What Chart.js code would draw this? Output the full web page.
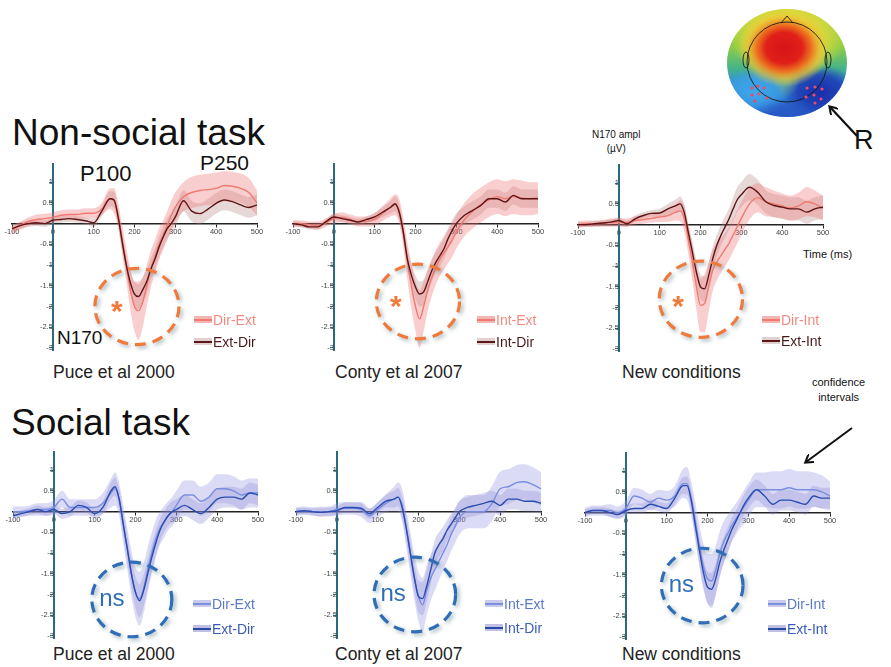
<!DOCTYPE html>
<html><head><meta charset="utf-8">
<script src="https://cdn.jsdelivr.net/npm/chart.js@4.4.0/dist/chart.umd.min.js"></script>
<style>
body{margin:0;background:#fff;width:891px;height:667px;overflow:hidden;position:relative;font-family:"Liberation Sans",Arial,sans-serif;color:#111;}
.t{position:absolute;white-space:nowrap;line-height:1;}
canvas.p{position:absolute;}
.sw{position:absolute;width:18px;height:7px;}
.sw i{position:absolute;left:0;right:0;top:2.5px;height:2px;}
.lg{position:absolute;white-space:nowrap;line-height:1;font-size:14px;}
svg{position:absolute;left:0;top:0;}
</style></head><body>

<div class="t" style="left:12px;top:114px;font-size:37px;">Non-social task</div>
<div class="t" style="left:11px;top:404px;font-size:37px;">Social task</div>

<div class="t" style="left:80px;top:163px;font-size:22px;">P100</div>
<div class="t" style="left:200px;top:152px;font-size:21px;">P250</div>
<div class="t" style="left:57px;top:328px;font-size:19px;">N170</div>

<div class="t" style="left:592px;top:128px;font-size:10px;text-align:center;line-height:1.35;">N170 ampl<br>(µV)</div>
<div class="t" style="left:803px;top:249px;font-size:11px;">Time (ms)</div>
<div class="t" style="left:812px;top:375px;font-size:11px;text-align:center;line-height:1.4;">confidence<br>intervals</div>
<div class="t" style="left:854px;top:127px;font-size:27px;">R</div>

<div class="t" style="left:53px;top:364px;font-size:17.5px;color:#222;">Puce et al 2000</div>
<div class="t" style="left:335px;top:364px;font-size:17.5px;color:#222;">Conty et al 2007</div>
<div class="t" style="left:622px;top:364px;font-size:17.5px;color:#222;">New conditions</div>
<div class="t" style="left:53px;top:646px;font-size:17.5px;color:#222;">Puce et al 2000</div>
<div class="t" style="left:335px;top:646px;font-size:17.5px;color:#222;">Conty et al 2007</div>
<div class="t" style="left:622px;top:646px;font-size:17.5px;color:#222;">New conditions</div>

<canvas class="p" id="c1" width="277" height="205" style="left:-4px;top:157px"></canvas>
<canvas class="p" id="c2" width="277" height="205" style="left:277px;top:157px"></canvas>
<canvas class="p" id="c3" width="277" height="205" style="left:562px;top:158px"></canvas>
<canvas class="p" id="c4" width="277" height="205" style="left:-3px;top:445px"></canvas>
<canvas class="p" id="c5" width="277" height="205" style="left:280px;top:445px"></canvas>
<canvas class="p" id="c6" width="277" height="205" style="left:569px;top:446px"></canvas>

<!-- legends -->
<div class="sw" style="left:194px;top:316px;background:rgba(236,120,115,.55)"><i style="background:#ee7a70"></i></div>
<div class="lg" style="left:213px;top:313px;color:#f08a80">Dir-Ext</div>
<div class="sw" style="left:194px;top:338px;background:rgba(190,150,150,.45)"><i style="background:#5a1818"></i></div>
<div class="lg" style="left:213px;top:335px;color:#4a1a1a">Ext-Dir</div>

<div class="sw" style="left:477px;top:316px;background:rgba(236,120,115,.55)"><i style="background:#ee7a70"></i></div>
<div class="lg" style="left:496px;top:313px;color:#f08a80">Int-Ext</div>
<div class="sw" style="left:477px;top:338px;background:rgba(190,150,150,.45)"><i style="background:#5a1818"></i></div>
<div class="lg" style="left:496px;top:335px;color:#4a1a1a">Int-Dir</div>

<div class="sw" style="left:762px;top:316px;background:rgba(236,120,115,.55)"><i style="background:#ee7a70"></i></div>
<div class="lg" style="left:781px;top:313px;color:#f08a80">Dir-Int</div>
<div class="sw" style="left:762px;top:337px;background:rgba(190,150,150,.45)"><i style="background:#5a1818"></i></div>
<div class="lg" style="left:781px;top:334px;color:#4a1a1a">Ext-Int</div>

<div class="sw" style="left:193px;top:600px;background:rgba(150,150,220,.5)"><i style="background:#7a8ee0"></i></div>
<div class="lg" style="left:212px;top:597px;color:#5a78c8">Dir-Ext</div>
<div class="sw" style="left:193px;top:625px;background:rgba(130,130,200,.5)"><i style="background:#2a48a8"></i></div>
<div class="lg" style="left:212px;top:622px;color:#3a5cb8">Ext-Dir</div>

<div class="sw" style="left:485px;top:600px;background:rgba(150,150,220,.5)"><i style="background:#7a8ee0"></i></div>
<div class="lg" style="left:504px;top:597px;color:#5a78c8">Int-Ext</div>
<div class="sw" style="left:485px;top:624px;background:rgba(130,130,200,.5)"><i style="background:#2a48a8"></i></div>
<div class="lg" style="left:504px;top:621px;color:#3a5cb8">Int-Dir</div>

<div class="sw" style="left:768px;top:600px;background:rgba(150,150,220,.5)"><i style="background:#7a8ee0"></i></div>
<div class="lg" style="left:787px;top:597px;color:#5a78c8">Dir-Int</div>
<div class="sw" style="left:768px;top:625px;background:rgba(130,130,200,.5)"><i style="background:#2a48a8"></i></div>
<div class="lg" style="left:787px;top:622px;color:#3a5cb8">Ext-Int</div>

<canvas id="scalp" width="170" height="125" style="position:absolute;left:720px;top:0px"></canvas>

<svg width="891" height="667">
  <defs><marker id="ah" markerWidth="10" markerHeight="10" refX="7" refY="5" orient="auto" markerUnits="userSpaceOnUse">
    <path d="M0,0 L8,5 L0,10" fill="none" stroke="#111" stroke-width="2"/></marker></defs>
  <line x1="857" y1="136" x2="830" y2="107" stroke="#111" stroke-width="2.2" marker-end="url(#ah)"/>
  <line x1="852" y1="428" x2="806" y2="462" stroke="#111" stroke-width="2" marker-end="url(#ah)"/>
</svg>

<script>
// ---------- data ----------
const T = [-100,-80,-60,-40,-20,0,20,40,60,80,100,120,140,150,160,170,180,190,200,210,220,230,240,250,260,270,280,290,300,320,340,360,380,400,420,440,460,480,500];
const X_TICKS = [-100,0,100,200,300,400,500];
const Y_TICKS = [-3,-2.5,-2,-1.5,-1,-0.5,0.5,1];

// Non-social task, Puce et al 2000
const puceNS_DirExt = [-0.15,-0.05,0.05,0.1,0.12,0.15,0.2,0.22,0.22,0.25,0.25,0.35,0.6,0.55,0.2,-0.4,-1.0,-1.6,-2.0,-2.1,-1.9,-1.5,-1.1,-0.8,-0.5,-0.28,-0.05,0.2,0.4,0.65,0.75,0.8,0.82,0.85,0.92,0.9,0.85,0.75,0.5];
const puceNS_ExtDir = [-0.12,-0.05,0.0,0.02,0.0,0.08,0.1,0.12,0.1,0.07,0.02,0.3,0.6,0.57,0.15,-0.45,-1.0,-1.43,-1.7,-1.76,-1.6,-1.4,-1.1,-0.86,-0.57,-0.33,-0.12,0.0,0.16,0.55,0.3,0.24,0.35,0.49,0.57,0.53,0.45,0.39,0.45];
const puceNS_DirExtCI = [0.1,0.1,0.1,0.12,0.12,0.12,0.12,0.12,0.12,0.12,0.12,0.15,0.25,0.3,0.3,0.35,0.4,0.5,0.6,0.7,0.6,0.5,0.45,0.4,0.38,0.35,0.35,0.35,0.35,0.35,0.38,0.38,0.38,0.38,0.35,0.35,0.35,0.35,0.3];
const puceNS_ExtDirCI = [0.08,0.08,0.08,0.08,0.08,0.08,0.08,0.08,0.08,0.08,0.1,0.12,0.18,0.2,0.2,0.22,0.25,0.28,0.3,0.3,0.3,0.28,0.26,0.25,0.25,0.25,0.25,0.25,0.25,0.25,0.25,0.25,0.25,0.25,0.25,0.25,0.25,0.25,0.25];

// Non-social task, Conty et al 2007
const contyNS_IntExt = [0.0,0.0,-0.03,-0.05,0.02,0.12,0.15,0.1,0.05,0.05,0.1,0.25,0.4,0.45,0.3,-0.2,-0.9,-1.5,-2.0,-2.3,-2.0,-1.6,-1.3,-1.05,-0.85,-0.7,-0.55,-0.4,-0.2,0.1,0.3,0.45,0.58,0.65,0.6,0.65,0.62,0.6,0.62];
const contyNS_IntDir = [0.0,-0.03,-0.08,-0.08,0.04,0.16,0.12,0.08,0.04,0.1,0.16,0.28,0.4,0.48,0.28,-0.2,-0.85,-1.25,-1.53,-1.7,-1.65,-1.4,-1.13,-0.93,-0.77,-0.6,-0.36,-0.16,0.0,0.2,0.32,0.44,0.6,0.6,0.52,0.68,0.6,0.6,0.6];
const contyNS_IntExtCI = [0.08,0.08,0.08,0.1,0.1,0.12,0.12,0.12,0.12,0.12,0.15,0.18,0.22,0.25,0.3,0.35,0.45,0.55,0.6,0.7,0.6,0.5,0.45,0.42,0.4,0.4,0.4,0.4,0.4,0.4,0.42,0.42,0.42,0.42,0.42,0.42,0.42,0.4,0.38];
const contyNS_IntDirCI = [0.06,0.06,0.06,0.06,0.06,0.08,0.08,0.08,0.08,0.08,0.1,0.12,0.15,0.18,0.2,0.22,0.25,0.25,0.28,0.3,0.3,0.28,0.26,0.25,0.25,0.25,0.25,0.25,0.25,0.22,0.22,0.22,0.22,0.22,0.22,0.22,0.22,0.22,0.22];

// Non-social task, new conditions
const newNS_DirInt = [0.0,0.02,0.02,0.03,0.05,0.05,0.05,0.1,0.12,0.15,0.18,0.22,0.3,0.33,0.15,-0.35,-0.9,-1.5,-1.95,-1.9,-1.5,-1.1,-0.9,-0.75,-0.6,-0.45,-0.25,-0.05,0.15,0.5,0.65,0.55,0.5,0.45,0.4,0.45,0.55,0.5,0.4];
const newNS_ExtInt = [0.0,0.0,0.02,0.04,0.06,0.1,0.02,0.14,0.22,0.27,0.28,0.38,0.46,0.5,0.3,-0.18,-0.66,-1.15,-1.5,-1.55,-1.23,-0.82,-0.5,-0.26,-0.06,0.14,0.38,0.6,0.72,0.9,0.78,0.55,0.46,0.42,0.38,0.38,0.3,0.38,0.42];
const newNS_DirIntCI = [0.08,0.08,0.08,0.08,0.1,0.1,0.1,0.1,0.1,0.1,0.12,0.15,0.2,0.25,0.3,0.35,0.45,0.55,0.65,0.7,0.6,0.5,0.45,0.42,0.4,0.4,0.4,0.4,0.4,0.38,0.35,0.35,0.32,0.3,0.3,0.32,0.35,0.32,0.3];
const newNS_ExtIntCI = [0.06,0.06,0.06,0.06,0.06,0.08,0.08,0.08,0.08,0.08,0.1,0.12,0.15,0.18,0.2,0.22,0.25,0.28,0.3,0.3,0.3,0.28,0.26,0.25,0.25,0.25,0.28,0.3,0.3,0.32,0.3,0.28,0.28,0.28,0.28,0.28,0.28,0.28,0.28];

// Social task, Puce et al 2000
const puceS_DirExt = [0.0,0.0,0.02,0.05,0.05,0.1,0.3,0.1,0.1,0.1,0.1,0.2,0.45,0.55,0.3,-0.3,-0.9,-1.5,-1.95,-2.1,-1.85,-1.4,-1.0,-0.65,-0.4,-0.25,-0.1,0.0,0.15,0.4,0.4,0.25,0.35,0.55,0.55,0.5,0.4,0.45,0.45];
const puceS_ExtDir = [-0.1,-0.05,0.0,0.05,0.0,0.05,-0.05,0.0,0.15,0.1,-0.05,0.1,0.5,0.6,0.3,-0.3,-0.9,-1.5,-1.95,-2.15,-1.9,-1.5,-1.1,-0.75,-0.45,-0.25,-0.1,0.0,0.05,0.15,0.05,-0.05,0.1,0.3,0.35,0.35,0.3,0.45,0.4];
const puceS_DirExtCI = [0.12,0.12,0.12,0.15,0.15,0.18,0.2,0.2,0.2,0.2,0.2,0.25,0.35,0.4,0.4,0.45,0.5,0.55,0.6,0.65,0.6,0.55,0.5,0.45,0.4,0.38,0.35,0.35,0.35,0.35,0.35,0.35,0.35,0.35,0.35,0.35,0.35,0.35,0.35];
const puceS_ExtDirCI = [0.08,0.08,0.08,0.1,0.1,0.1,0.12,0.12,0.12,0.12,0.12,0.15,0.2,0.22,0.25,0.3,0.32,0.35,0.38,0.4,0.38,0.35,0.32,0.3,0.28,0.25,0.25,0.25,0.25,0.25,0.25,0.25,0.25,0.25,0.25,0.25,0.25,0.25,0.25];

// Social task, Conty et al 2007
const contyS_IntExt = [0.0,0.02,0.0,0.0,0.0,0.05,0.08,0.08,0.05,-0.1,0.05,0.2,0.3,0.35,0.15,-0.4,-1.0,-1.6,-2.05,-2.25,-1.9,-1.6,-1.4,-1.2,-1.0,-0.8,-0.55,-0.35,-0.15,0.0,0.0,0.0,0.2,0.55,0.6,0.7,0.72,0.65,0.55];
const contyS_IntDir = [0.0,0.02,0.0,-0.02,0.0,0.02,0.1,0.1,0.08,-0.05,0.1,0.25,0.3,0.35,0.1,-0.4,-1.0,-1.6,-2.05,-2.1,-1.8,-1.4,-1.0,-0.8,-0.65,-0.45,-0.3,-0.15,0.0,0.1,0.15,0.2,0.25,0.15,0.3,0.3,0.25,0.25,0.2];
const contyS_IntExtCI = [0.1,0.1,0.1,0.12,0.12,0.15,0.15,0.15,0.18,0.18,0.18,0.22,0.3,0.35,0.4,0.45,0.5,0.55,0.6,0.65,0.6,0.55,0.5,0.45,0.42,0.4,0.4,0.4,0.4,0.4,0.4,0.4,0.42,0.42,0.42,0.42,0.42,0.42,0.4];
const contyS_IntDirCI = [0.08,0.08,0.08,0.1,0.1,0.1,0.12,0.12,0.12,0.12,0.12,0.15,0.2,0.22,0.25,0.3,0.32,0.35,0.38,0.4,0.38,0.35,0.32,0.3,0.28,0.25,0.25,0.25,0.25,0.25,0.25,0.25,0.25,0.25,0.25,0.25,0.25,0.25,0.25];

// Social task, new conditions
const newS_DirInt = [0.0,0.05,0.05,0.05,0.0,0.1,0.4,0.35,0.25,0.35,0.3,0.4,0.7,0.7,0.35,-0.2,-0.8,-1.3,-1.6,-1.65,-1.4,-1.0,-0.7,-0.5,-0.3,-0.15,0.0,0.15,0.3,0.55,0.55,0.55,0.55,0.6,0.55,0.55,0.55,0.5,0.4];
const newS_ExtInt = [0.0,0.05,0.05,0.0,-0.05,0.05,0.1,0.1,0.2,0.15,0.1,0.35,0.65,0.65,0.3,-0.3,-0.9,-1.45,-1.8,-1.85,-1.6,-1.2,-0.9,-0.65,-0.4,-0.2,0.0,0.2,0.35,0.55,0.4,0.2,0.3,0.3,0.25,0.2,0.4,0.35,0.35];
const newS_DirIntCI = [0.12,0.12,0.12,0.15,0.15,0.18,0.2,0.2,0.2,0.2,0.22,0.25,0.35,0.4,0.4,0.45,0.5,0.55,0.6,0.65,0.6,0.55,0.5,0.45,0.4,0.38,0.38,0.4,0.4,0.42,0.42,0.45,0.45,0.45,0.45,0.45,0.42,0.4,0.35];
const newS_ExtIntCI = [0.08,0.08,0.08,0.1,0.1,0.1,0.12,0.12,0.12,0.12,0.12,0.15,0.2,0.22,0.25,0.3,0.32,0.35,0.38,0.4,0.38,0.35,0.32,0.3,0.28,0.25,0.25,0.25,0.25,0.25,0.25,0.25,0.25,0.25,0.25,0.25,0.25,0.25,0.25];

// ---------- styles ----------
const RED = {lLine:'#ee7a70', dLine:'#5e1414', lBand:'rgba(236,110,110,0.34)', dBand:'rgba(175,125,125,0.30)', circ:'#f07a3c'};
const BLUE = {lLine:'#7a8ee0', dLine:'#2a4cb0', lBand:'rgba(150,150,225,0.34)', dBand:'rgba(115,115,200,0.28)', circ:'#2f6db8'};

const pts = m => T.map((t,i)=>({x:t, y:m[i]}));
const hi = (m,ci) => T.map((t,i)=>({x:t, y:m[i]+ci[i]}));
const lo = (m,ci) => T.map((t,i)=>({x:t, y:m[i]-ci[i]}));

const annPlugin = {
  id:'ann',
  afterDatasetsDraw(chart, args, o){
    const xs = chart.scales.x, ys = chart.scales.y, c = chart.ctx;
    const cx = xs.getPixelForValue(o.cx), cy = ys.getPixelForValue(o.cy);
    const rx = Math.abs(xs.getPixelForValue(o.cx+o.rx)-cx), ry = Math.abs(ys.getPixelForValue(o.cy+o.ry)-cy);
    c.save();
    c.setLineDash([11,7]); c.lineWidth = 3.2; c.strokeStyle = o.color;
    c.shadowColor = 'rgba(90,125,135,0.6)'; c.shadowBlur = 4; c.shadowOffsetX = 2; c.shadowOffsetY = 2;
    c.beginPath(); c.ellipse(cx, cy, rx, ry, 0, 0, Math.PI*2); c.stroke();
    c.restore();
    c.save();
    c.fillStyle = o.color; c.textAlign='center'; c.textBaseline='middle';
    c.font = o.font;
    c.fillText(o.text, xs.getPixelForValue(o.tx), ys.getPixelForValue(o.ty));
    c.restore();
  }
};

function panel(id, light, dark, ciL, ciD, pal, ann){
  new Chart(document.getElementById(id), {
    type:'line',
    data:{datasets:[
      {data:pts(dark), borderColor:pal.dLine, borderWidth:1.4, fill:false},
      {data:pts(light), borderColor:pal.lLine, borderWidth:1.4, fill:false},
      {data:hi(light,ciL), borderWidth:0, borderColor:'transparent', backgroundColor:pal.lBand, fill:'+1'},
      {data:lo(light,ciL), borderWidth:0, borderColor:'transparent', fill:false},
      {data:hi(dark,ciD), borderWidth:0, borderColor:'transparent', backgroundColor:pal.dBand, fill:'+1'},
      {data:lo(dark,ciD), borderWidth:0, borderColor:'transparent', fill:false}
    ]},
    options:{
      responsive:false, animation:false, events:[],
      layout:{padding:{left:16,right:16,top:6,bottom:12}},
      elements:{point:{radius:0}, line:{cubicInterpolationMode:'monotone'}},
      plugins:{legend:{display:false}, tooltip:{enabled:false}, ann:ann},
      scales:{
        x:{type:'linear', min:-100, max:500, position:{y:0},
           afterBuildTicks:s=>{s.ticks = X_TICKS.map(v=>({value:v}));},
           grid:{display:true, drawOnChartArea:false, tickLength:3, color:'#222'},
           border:{display:true, color:'#222', width:1.5},
           ticks:{font:{size:7.5, family:'Liberation Sans'}, color:'#444', padding:1, maxRotation:0, autoSkip:false, callback:v=>String(v)}},
        y:{type:'linear', min:-3.05, max:1.45, position:{x:0},
           afterBuildTicks:s=>{s.ticks = Y_TICKS.map(v=>({value:v}));},
           grid:{display:true, drawOnChartArea:false, tickLength:3, color:'#2a6a80'},
           border:{display:true, color:'#2a6a80', width:2},
           ticks:{font:{size:7.5, family:'Liberation Sans'}, color:'#444', padding:2, autoSkip:false, callback:v=>String(v)}}
      }
    },
    plugins:[annPlugin]
  });
}

const STAR = 'bold 30px "Liberation Sans"', NS = '24px "Liberation Sans"';
panel('c1', puceNS_DirExt, puceNS_ExtDir, puceNS_DirExtCI, puceNS_ExtDirCI, RED, {cx:206, cy:-2.0, rx:103, ry:0.92, color:RED.circ, text:'*', tx:157, ty:-2.15, font:STAR});
panel('c2', contyNS_IntExt, contyNS_IntDir, contyNS_IntExtCI, contyNS_IntDirCI, RED, {cx:206, cy:-1.88, rx:102, ry:0.9, color:RED.circ, text:'*', tx:152, ty:-2.03, font:STAR});
panel('c3', newNS_DirInt, newNS_ExtInt, newNS_DirIntCI, newNS_ExtIntCI, RED, {cx:201, cy:-1.8, rx:102, ry:0.92, color:RED.circ, text:'*', tx:145, ty:-2.0, font:STAR});
panel('c4', puceS_DirExt, puceS_ExtDir, puceS_DirExtCI, puceS_ExtDirCI, BLUE, {cx:191, cy:-2.12, rx:98, ry:0.9, color:BLUE.circ, text:'ns', tx:142, ty:-2.12, font:NS});
panel('c5', contyS_IntExt, contyS_IntDir, contyS_IntExtCI, contyS_IntDirCI, BLUE, {cx:191, cy:-2.0, rx:100, ry:0.9, color:BLUE.circ, text:'ns', tx:138, ty:-2.0, font:NS});
panel('c6', newS_DirInt, newS_ExtInt, newS_DirIntCI, newS_ExtIntCI, BLUE, {cx:187, cy:-1.76, rx:100, ry:0.9, color:BLUE.circ, text:'ns', tx:136, ty:-1.76, font:NS});

// ---------- scalp map (illustration) ----------
(function(){
  const c = document.getElementById('scalp').getContext('2d');
  const cx=67, cy=63, rx=60, ry=54;
  c.save();
  c.beginPath(); c.ellipse(cx,cy,rx,ry,0,0,Math.PI*2); c.clip();
  let g = c.createLinearGradient(0,cy-ry,0,cy+ry);
  g.addColorStop(0,'#c8d63a'); g.addColorStop(0.35,'#8ccc46'); g.addColorStop(0.55,'#45b48a');
  g.addColorStop(0.7,'#2f8ed8'); g.addColorStop(1,'#2450c0');
  c.fillStyle=g; c.fillRect(0,0,170,125);
  function blob(x,y,r,stops,sx,sy){
    c.save(); c.translate(x,y); c.scale(sx||1,sy||1);
    const rg=c.createRadialGradient(0,0,0,0,0,r);
    stops.forEach(s=>rg.addColorStop(s[0],s[1]));
    c.fillStyle=rg; c.beginPath(); c.arc(0,0,r,0,Math.PI*2); c.fill(); c.restore();
  }
  blob(35,92,30,[[0,'rgba(60,170,235,1)'],[0.6,'rgba(60,160,230,0.8)'],[1,'rgba(60,160,230,0)']],1.2,0.8);
  blob(100,92,34,[[0,'rgba(25,45,170,1)'],[0.6,'rgba(30,60,180,0.85)'],[1,'rgba(30,60,180,0)']],1.1,0.8);
  blob(66,112,24,[[0,'rgba(40,90,200,0.9)'],[1,'rgba(40,90,200,0)']],1.5,0.6);
  blob(68,40,52,[[0,'rgba(240,220,60,0.9)'],[0.7,'rgba(230,220,60,0.6)'],[1,'rgba(230,220,60,0)']],1.1,0.75);
  blob(66,66,20,[[0,'rgba(170,205,70,0.9)'],[1,'rgba(170,205,70,0)']],0.8,1.6);
  blob(64,48,46,[[0,'#d8141a'],[0.4,'#e02018'],[0.6,'rgba(238,110,30,0.95)'],[0.8,'rgba(245,190,50,0.6)'],[1,'rgba(245,210,60,0)']],1.0,0.85);
  c.restore();
  // head outline
  c.strokeStyle='rgba(20,20,20,0.85)'; c.lineWidth=1;
  c.beginPath(); c.arc(67,62,40,0,Math.PI*2); c.stroke();
  c.beginPath(); c.moveTo(61,23); c.lineTo(67,16); c.lineTo(73,23); c.stroke();
  c.beginPath(); c.ellipse(26,60,3,8,0,0,Math.PI*2); c.stroke();
  c.beginPath(); c.ellipse(108,60,3,8,0,0,Math.PI*2); c.stroke();
  // electrode dots
  c.fillStyle='#f04a6a';
  [[32,88],[38,86],[44,88],[32,95],[39,94],[47,98],[35,101],[87,88],[95,87],[102,89],[86,97],[94,95],[101,99],[95,103]].forEach(p=>{c.beginPath();c.arc(p[0],p[1],1.6,0,Math.PI*2);c.fill();});
})();
</script>
</body></html>
